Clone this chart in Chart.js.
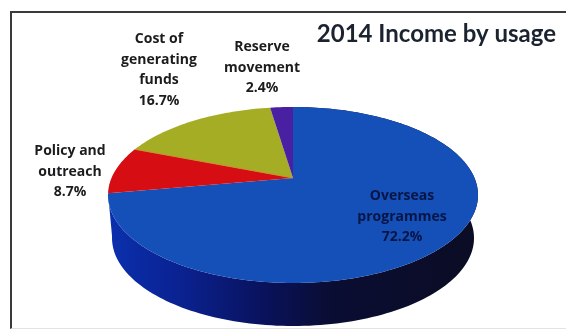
<!DOCTYPE html>
<html>
<head>
<meta charset="utf-8">
<title>2014 Income by usage</title>
<script src="https://cdn.jsdelivr.net/npm/chart.js@4"></script>
<style>
  html, body { margin: 0; background: #fff; }
  #wrap { position: relative; width: 566px; height: 329px; overflow: hidden; }
  #frame { position: absolute; left: 10px; top: 11px; right: 0; bottom: 0;
           border-top: 2px solid #3a3a3c; border-left: 2px solid #3a3a3c; border-bottom: 1px solid #e2e2e2; }
  #income { position: absolute; left: 0; top: 0; }
</style>
</head>
<body>
<div id="wrap">
  <div id="frame"></div>
  <canvas id="income" width="566" height="329"></canvas>
</div>
<script>
const categories = ['Overseas programmes', 'Policy and outreach', 'Cost of generating funds', 'Reserve movement'];
const shares = [72.2, 8.7, 16.7, 2.4];
const sliceColors = ['#1450b8', '#d60d12', '#a5ad24', '#4a20a2'];
const labelLines = [['Overseas', 'programmes'], ['Policy and', 'outreach'], ['Cost of', 'generating', 'funds'], ['Reserve', 'movement']];
const labelColors = ['#081545', '#1c1c1e', '#1c1c1e', '#1c1c1e'];

// where each text block starts (centre x, first baseline)
const labelSpots = [[402, 200], [70, 155], [159, 43], [262, 51]];
const lineStep = 20.5;

// the tilted disc: rim ellipses for the top face and the bottom edge
const top_ = { cx: 293, cy: 195, rx: 185, ry: 88 };
const bottom_ = { cx: 293, cy: 238, rx: 181, ry: 88 };
const apexLift = 17;   // the centre sits above the ellipse middle, like real perspective

// projects a pie angle + radius fraction on to a rim ellipse
function project(e, angle, r) {
  const u = r * Math.cos(angle);
  const v = -r * Math.sin(angle);
  const w = 1 + (apexLift / e.ry) * v;
  const c = e.rx * Math.sqrt(1 - Math.pow(apexLift / e.ry, 2));
  return {
    x: e.cx + c * u / w,
    y: e.cy - (e.ry * v + apexLift) / w
  };
}

function traceRim(ctx, e, from, to) {
  const steps = Math.max(4, Math.ceil(Math.abs(to - from) * 40));
  for (let i = 0; i <= steps; i++) {
    const p = project(e, from + (to - from) * i / steps, 1);
    ctx.lineTo(p.x, p.y);
  }
}

const tiltedPie = {
  id: 'tiltedPie',
  // replaces the flat arc drawing, the angles still come from the pie controller
  beforeDatasetDraw(chart) {
    const ctx = chart.ctx;
    const arcs = chart.getDatasetMeta(0).data;
    const apex = project(top_, 0, 0);
    ctx.save();

    // only the big slice faces the viewer so it is the only one with a side wall
    const wall = ctx.createLinearGradient(108, 0, 478, 0);
    wall.addColorStop(0, '#0b30ae');
    wall.addColorStop(0.2, '#0a2190');
    wall.addColorStop(0.42, '#09125c');
    wall.addColorStop(0.6, '#0a0d33');
    wall.addColorStop(1, '#0b0c24');
    ctx.fillStyle = wall;
    ctx.beginPath();
    traceRim(ctx, top_, arcs[0].startAngle, arcs[0].endAngle);
    traceRim(ctx, bottom_, arcs[0].endAngle, arcs[0].startAngle);
    ctx.closePath();
    ctx.fill();

    arcs.forEach((arc, i) => {
      ctx.fillStyle = sliceColors[i];
      ctx.beginPath();
      ctx.moveTo(apex.x, apex.y);
      traceRim(ctx, top_, arc.startAngle, arc.endAngle);
      ctx.closePath();
      ctx.fill();
    });

    // thin warm seam where the red and olive slices meet
    const seam = project(top_, arcs[2].startAngle, 1);
    ctx.strokeStyle = '#c98a2a';
    ctx.lineWidth = 1;
    ctx.beginPath();
    ctx.moveTo(apex.x, apex.y);
    ctx.lineTo(seam.x, seam.y);
    ctx.stroke();

    ctx.restore();
    return false;
  },
  afterDatasetsDraw(chart) {
    const ctx = chart.ctx;
    ctx.save();
    ctx.font = 'bold 14px "Open Sans"';
    ctx.textAlign = 'center';
    labelLines.forEach((lines, i) => {
      const [x, y] = labelSpots[i];
      ctx.fillStyle = labelColors[i];
      lines.concat(shares[i].toFixed(1) + '%').forEach((line, n) => {
        ctx.fillText(line, x, y + n * lineStep);
      });
    });
    ctx.restore();
  }
};

new Chart(document.getElementById('income'), {
  type: 'pie',
  data: {
    labels: categories,
    datasets: [{ data: shares, backgroundColor: sliceColors, borderWidth: 0 }]
  },
  options: {
    responsive: false,
    animation: false,
    layout: { padding: { right: 10 } },
    plugins: {
      legend: { display: false },
      tooltip: { enabled: false },
      title: {
        display: true,
        text: '2014 Income by usage',
        align: 'end',
        color: '#1b2230',
        font: { family: 'Lato', size: 24, weight: 'bold' },
        padding: { top: 20, bottom: 4 }
      }
    }
  },
  plugins: [tiltedPie]
});
</script>
</body>
</html>
